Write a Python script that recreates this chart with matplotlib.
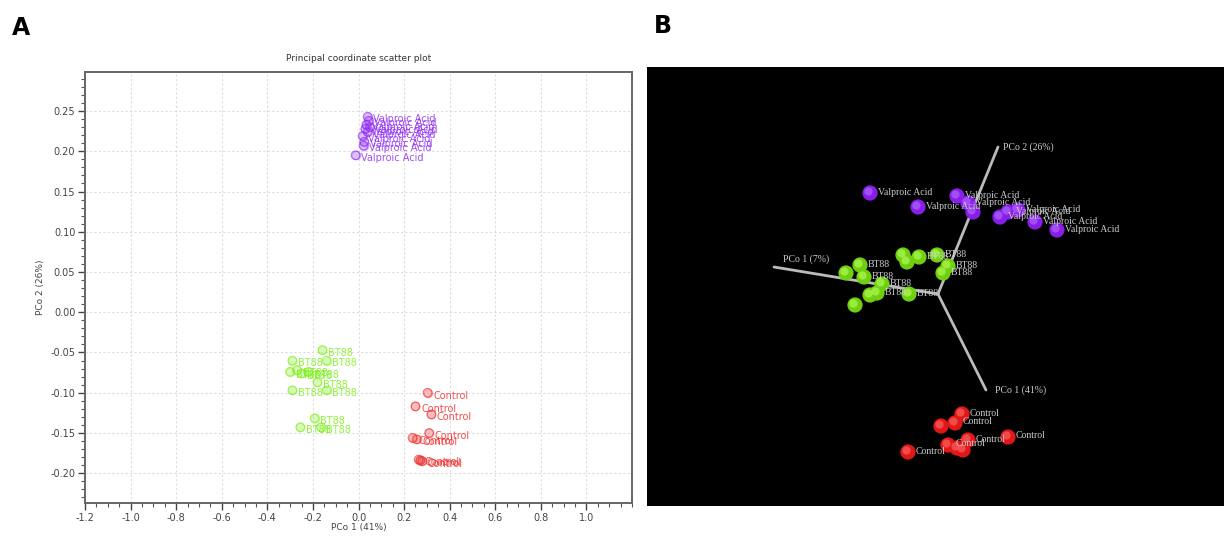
import matplotlib
matplotlib.use('Agg')
import matplotlib.pyplot as plt
from matplotlib.ticker import MultipleLocator, FormatStrFormatter

# ---- panel A: principal coordinate scatter (PCo 1 vs PCo 2)
valproic_x = [0.040, 0.045, 0.035, 0.050, 0.030, 0.040, 0.018, 0.025, 0.022, -0.013]
valproic_y = [0.243, 0.238, 0.233, 0.230, 0.228, 0.224, 0.219, 0.212, 0.207, 0.195]
bt88_x = [-0.158, -0.290, -0.140, -0.300, -0.270, -0.250, -0.220, -0.180, -0.290, -0.140, -0.193, -0.255, -0.165]
bt88_y = [-0.047, -0.060, -0.060, -0.074, -0.072, -0.076, -0.074, -0.087, -0.097, -0.097, -0.132, -0.143, -0.143]
control_x = [0.303, 0.250, 0.320, 0.310, 0.237, 0.255, 0.264, 0.272, 0.280]
control_y = [-0.100, -0.117, -0.127, -0.150, -0.156, -0.158, -0.183, -0.184, -0.185]

# ---- panel B: projected positions of the 3D view (screen coords)
axis_origin = (938, 294)
axis_ends = {'PCo 2 (26%)': (998, 147), 'PCo 1 (41%)': (986, 390), 'PCo 1 (7%)': (774, 267)}
vp3_x = [870, 918, 957, 968, 973, 1000, 1008, 1018, 1035, 1057]
vp3_y = [193, 207, 196, 203, 212, 217, 212, 210, 222, 230]
bt3_x = [903, 907, 919, 937, 948, 943, 860, 846, 864, 882, 909, 870, 877, 855]
bt3_y = [255, 262, 257, 255, 266, 273, 265, 273, 277, 284, 294, 295, 293, 305]
ct3_x = [962, 955, 941, 968, 948, 957, 963, 1008, 908]
ct3_y = [414, 423, 426, 440, 445, 448, 450, 437, 452]

purple = '#9030f0'
green = '#80f020'
red = '#f03030'

W, H = 1224, 539
fig = plt.figure(figsize=(W / 100, H / 100), dpi=100)

axA = fig.add_axes([85 / W, 1 - 503 / H, (632 - 85) / W, (503 - 72) / H])
for xs, ys, col, name in [(valproic_x, valproic_y, purple, 'Valproic Acid'),
                          (bt88_x, bt88_y, green, 'BT88'),
                          (control_x, control_y, red, 'Control')]:
    axA.scatter(xs, ys, s=38, facecolors=col, edgecolors=col, alpha=0.3, linewidths=0.9, zorder=3)
    axA.scatter(xs, ys, s=38, facecolors='none', edgecolors=col, alpha=0.7, linewidths=0.8, zorder=3)
    for x, y in zip(xs, ys):
        axA.annotate(name, (x, y), xytext=(4, -2), textcoords='offset points',
                     fontsize=7, color=col, alpha=0.85, va='center', zorder=4)

axA.set_xlim(-1.2, 1.2)
axA.set_ylim(-0.237, 0.2985)
axA.xaxis.set_major_locator(MultipleLocator(0.2))
axA.xaxis.set_minor_locator(MultipleLocator(0.05))
axA.yaxis.set_major_locator(MultipleLocator(0.05))
axA.yaxis.set_minor_locator(MultipleLocator(0.01))
axA.xaxis.set_major_formatter(FormatStrFormatter('%.1f'))
axA.yaxis.set_major_formatter(FormatStrFormatter('%.2f'))
axA.set_xticks([t / 10 for t in range(-12, 11, 2)])
axA.tick_params(which='major', direction='out', length=5, width=1, labelsize=7, colors='#444444', pad=2)
axA.tick_params(which='minor', direction='out', length=3, width=0.8, colors='#555555')
axA.grid(True, which='major', color='#dddddd', linestyle=(0, (2, 2)), linewidth=0.8)
axA.set_axisbelow(True)
for sp in axA.spines.values():
    sp.set_color('#666666')
    sp.set_linewidth(1.4)
axA.set_xlabel('PCo 1 (41%)', fontsize=6.5, color='#444444', labelpad=0)
axA.set_ylabel('PCo 2 (26%)', fontsize=6.5, color='#444444', labelpad=4)
axA.set_title('Principal coordinate scatter plot', fontsize=6.5, color='#333333', pad=8)

# ---- panel B
axB = fig.add_axes([647 / W, 1 - 506 / H, (W - 647) / W, (506 - 67) / H])
axB.set_facecolor('black')
axB.set_xlim(647, W)
axB.set_ylim(506, 67)
axB.set_xticks([])
axB.set_yticks([])
for sp in axB.spines.values():
    sp.set_visible(False)

ox, oy = axis_origin
for name, (ex, ey) in axis_ends.items():
    axB.plot([ox, ex], [oy, ey], color='#bbbbbb', linewidth=2, solid_capstyle='round', zorder=2)
axB.text(1003, 147, 'PCo 2 (26%)', color='#cccccc', fontsize=7, family='Liberation Serif', va='center')
axB.text(995, 390, 'PCo 1 (41%)', color='#cccccc', fontsize=7, family='Liberation Serif', va='center')
axB.text(783, 264, 'PCo 1 (7%)', color='#cccccc', fontsize=7, family='Liberation Serif', va='bottom')

groups3 = [(vp3_x, vp3_y, '#8a1ee8', '#b070ff', 'Valproic Acid', [0, 1, 2, 3, 5, 6, 7, 8, 9]),
           (bt3_x, bt3_y, '#70d010', '#b8ff60', 'BT88', [2, 3, 4, 5, 6, 8, 9, 10, 12]),
           (ct3_x, ct3_y, '#e01818', '#ff6a6a', 'Control', [0, 1, 3, 4, 7, 8])]
for xs, ys, col, hi, name, lab in groups3:
    axB.scatter(xs, ys, s=120, color=col, edgecolors='none', zorder=3)
    axB.scatter([x - 1.5 for x in xs], [y - 1.5 for y in ys], s=35, color=hi, edgecolors='none', alpha=0.6, zorder=3)
    for i in lab:
        axB.text(xs[i] + 8, ys[i] - 1, name, color='#cccccc', fontsize=7,
                 family='Liberation Serif', va='center', zorder=4)

fig.text(12 / W, 1 - 28 / H, 'A', fontsize=17, fontweight='bold', va='center')
fig.text(654 / W, 1 - 26 / H, 'B', fontsize=17, fontweight='bold', va='center')

fig.savefig('out.png', dpi=100)
